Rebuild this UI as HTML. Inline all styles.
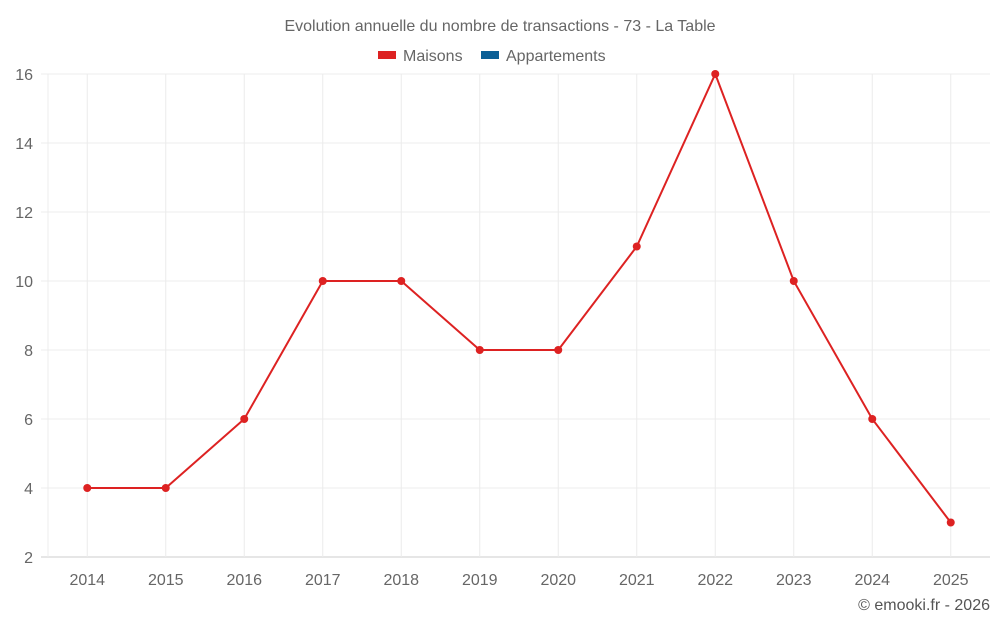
<!DOCTYPE html>
<html><head><meta charset="utf-8"><style>
body{margin:0;background:#fff;width:1000px;height:625px;overflow:hidden}
svg{font-family:"Liberation Sans",sans-serif}
</style></head><body>
<svg id="chart" width="1000" height="625">
<text x="500" y="31" text-anchor="middle" font-size="16" fill="#666">Evolution annuelle du nombre de transactions - 73 - La Table</text>
<g>
<g><rect x="378" y="51" width="18" height="8" fill="#dd2222"/><text x="403" y="61" font-size="16" fill="#666">Maisons</text></g>
<g><rect x="481" y="51" width="18" height="8" fill="#0b5f96"/><text x="506" y="61" font-size="16" fill="#666">Appartements</text></g>
</g>
<g id="grid"></g><g id="axes"></g><g id="series"></g>
<text x="990" y="610" text-anchor="end" font-size="16" fill="#555">© emooki.fr - 2026</text>
</svg>
<script>
const categories=["2014","2015","2016","2017","2018","2019","2020","2021","2022","2023","2024","2025"];
const maisons=[4,4,6,10,10,8,8,11,16,10,6,3];
const yTicks=[2,4,6,8,10,12,14,16];
const L=48,R=990,T=74,B=557,yMin=2,yMax=16;
const band=(R-L)/categories.length;
const xs=i=>L+band*(i+0.5);
const ys=v=>B-(v-yMin)/(yMax-yMin)*(B-T);
const NS="http://www.w3.org/2000/svg";
function mk(tag,attrs,parent){const e=document.createElementNS(NS,tag);for(const k in attrs)e.setAttribute(k,attrs[k]);parent.appendChild(e);return e;}
const grid=document.getElementById('grid'),axes=document.getElementById('axes'),ser=document.getElementById('series');
yTicks.forEach(v=>{
 const l=mk('line',{x1:41,x2:R,y1:ys(v),y2:ys(v),stroke:v===yMin?'#ccc':'#ececec','stroke-width':1},grid);
 
 
 const t=mk('text',{x:33,y:ys(v)+6,'text-anchor':'end','font-size':16,fill:'#666'},axes);
 t.textContent=v;
 
 
});
const yl=mk('line',{x1:L,x2:L,y1:T,y2:B,stroke:'#ececec'},grid);


categories.forEach((c,i)=>{
 const l=mk('line',{x1:xs(i),x2:xs(i),y1:T,y2:B,stroke:'#ececec'},grid);
 
 
 const t=mk('text',{x:xs(i),y:585,'text-anchor':'middle','font-size':16,fill:'#666'},axes);
 t.textContent=c;
 
 
});
const pl=mk('polyline',{points:maisons.map((v,i)=>xs(i)+','+ys(v)).join(' '),fill:'none',stroke:'#dd2222','stroke-width':2},ser);


maisons.forEach((v,i)=>{
 const c=mk('circle',{cx:xs(i),cy:ys(v),r:4,fill:'#dd2222'},ser);
 
 
});
</script>
</body></html>
